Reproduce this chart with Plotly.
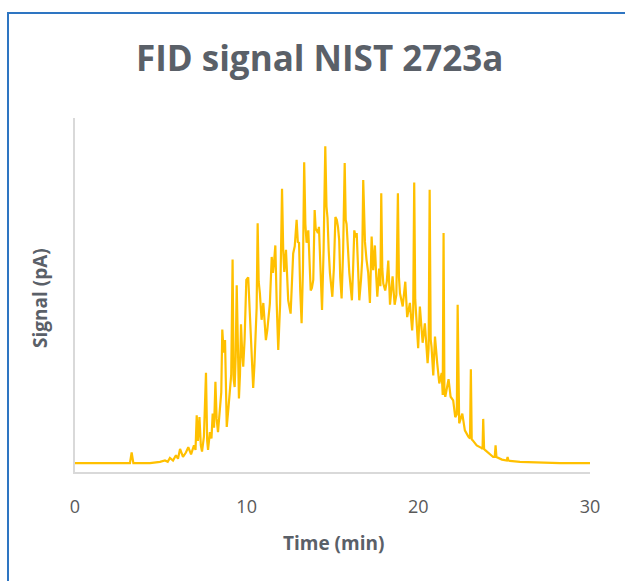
import plotly.graph_objects as go

# Retention time (min)
time_min = [
    0.0, 1.0, 2.0, 3.2, 3.3, 3.4, 4.37, 4.66, 4.95, 5.24, 5.40, 5.53, 5.71, 5.88, 6.0,
    6.12, 6.29, 6.46, 6.60, 6.76, 6.93, 7.02, 7.09, 7.16, 7.25, 7.33, 7.40, 7.51, 7.63,
    7.70, 7.75, 7.86, 7.95, 8.02, 8.10, 8.18, 8.25, 8.33, 8.44, 8.52, 8.58, 8.66, 8.74,
    8.84, 8.95, 9.03, 9.10, 9.18, 9.24, 9.30, 9.36, 9.42, 9.48, 9.55, 9.61, 9.67, 9.74,
    9.80, 9.88, 9.98, 10.09, 10.16, 10.23, 10.30, 10.38, 10.45, 10.52, 10.58, 10.64,
    10.70, 10.77, 10.87, 10.97, 11.05, 11.12, 11.20, 11.26, 11.35, 11.46, 11.53, 11.59,
    11.67, 11.75, 11.84, 11.95, 12.06, 12.13, 12.19, 12.29, 12.36, 12.42, 12.56, 12.64,
    12.71, 12.80, 12.91, 12.98, 13.05, 13.12, 13.20, 13.28, 13.35, 13.42, 13.49, 13.59,
    13.66, 13.73, 13.80, 13.88, 13.96, 14.02, 14.08, 14.15, 14.21, 14.30, 14.39, 14.48,
    14.58, 14.65, 14.71, 14.78, 14.85, 14.99, 15.08, 15.17, 15.25, 15.32, 15.39, 15.45,
    15.53, 15.62, 15.71, 15.77, 15.82, 15.98, 16.05, 16.13, 16.20, 16.27, 16.35, 16.41,
    16.49, 16.56, 16.66, 16.73, 16.79, 16.85, 16.89, 16.98, 17.08, 17.18, 17.28, 17.37,
    17.47, 17.55, 17.61, 17.72, 17.79, 17.84, 17.90, 17.96, 18.07, 18.16, 18.25, 18.35,
    18.50, 18.62, 18.72, 18.81, 18.87, 18.93, 19.09, 19.24, 19.35, 19.51, 19.64, 19.70,
    19.76, 19.82, 19.86, 19.99, 20.09, 20.25, 20.38, 20.54, 20.60, 20.66, 20.72, 20.77,
    20.87, 20.97, 21.10, 21.22, 21.36, 21.42, 21.47, 21.52, 21.57, 21.68, 21.76, 21.88,
    22.03, 22.15, 22.24, 22.29, 22.34, 22.38, 22.56, 22.71, 22.91, 23.01, 23.06, 23.11,
    23.16, 23.40, 23.69, 23.74, 23.78, 23.83, 23.88, 24.07, 24.36, 24.45, 24.50, 24.55,
    24.65, 24.87, 25.15, 25.20, 25.25, 25.33, 25.92, 27.08, 28.25, 30.0,
]

# FID signal (pA, baseline-corrected)
signal_pa = [
    0.0, 0.0, 0.0, 0.0, 1.2, 0.0, 0.0, 0.05, 0.15, 0.3, 0.15, 0.6, 0.3, 0.9, 0.5,
    1.6, 0.7, 1.2, 1.8, 1.0, 2.0, 1.5, 5.4, 2.5, 5.2, 2.0, 1.3, 3.0, 10.2,
    2.5, 1.5, 3.5, 2.8, 5.6, 4.0, 9.2, 5.0, 3.5, 6.0, 8.0, 15.1, 12.5, 13.9,
    4.1, 6.5, 8.5, 10.0, 23.0, 9.5, 8.6, 12.0, 20.1, 12.0, 7.3, 10.0, 15.7, 12.5,
    10.9, 14.0, 20.7, 21.0, 18.0, 13.6, 10.5, 8.5, 11.0, 15.0, 17.5, 27.1,
    20.5, 19.2, 16.2, 18.1, 15.5, 13.9, 15.0, 16.5, 18.0, 23.3, 21.5, 22.6,
    24.6, 18.0, 12.8, 18.0, 31.0, 24.0, 21.6, 24.1, 20.5, 18.4, 16.9, 20.0,
    23.7, 24.5, 27.5, 25.0, 24.9, 19.5, 15.8, 22.0, 34.0, 27.0, 24.9, 26.3,
    22.0, 19.5, 19.8, 20.7, 28.6, 26.5, 26.3, 26.0, 26.7, 21.0, 17.3, 24.0,
    35.8, 29.0, 27.7, 24.0, 21.5, 18.8, 22.0, 27.8, 27.5, 26.7, 25.2, 21.0,
    18.6, 24.0, 33.9, 27.5, 27.0, 21.5, 19.5, 18.4, 22.0, 26.3, 25.5, 26.0,
    22.0, 18.4, 20.7, 23.0, 32.0, 26.7, 25.0, 23.0, 21.5, 18.1, 25.6, 21.8,
    24.6, 21.0, 18.8, 22.0, 20.0, 30.5, 22.0, 20.3, 19.5, 20.5, 22.9, 17.9,
    21.1, 17.9, 19.0, 30.5, 21.0, 19.2, 17.7, 20.5, 16.5, 18.1, 15.0, 17.0,
    31.7, 18.5, 16.9, 13.0, 17.7, 13.6, 15.8, 11.3, 13.0, 30.9, 14.0, 13.1,
    9.9, 14.3, 11.3, 9.0, 10.2, 7.7, 26.0, 8.0, 7.5, 8.5, 9.5, 7.5,
    7.1, 5.2, 5.5, 17.9, 5.0, 4.5, 5.6, 3.7, 3.0, 2.8, 10.6, 2.7,
    2.6, 2.0, 1.7, 1.6, 5.0, 1.6, 1.5, 1.2, 0.7, 0.7, 2.0, 0.7,
    0.6, 0.4, 0.3, 0.7, 0.3, 0.25, 0.15, 0.05, 0.0, 0.0,
]

x_tick_vals = [0, 10, 20, 30]
x_tick_text = ["0", "10", "20", "30"]

chart_title = "FID signal NIST 2723a"
x_title = "Time (min)"
y_title = "Signal (pA)"

TEXT = "#595959"
TITLE = "#5A6068"
FONT = "'Open Sans', 'Noto Sans', sans-serif"

fig = go.Figure()
fig.add_trace(go.Scatter(
    x=time_min, y=signal_pa, mode="lines",
    line=dict(color="#FFC000", width=2.2),
    hoverinfo="skip", showlegend=False,
))

W, H = 625, 581
ml, mr, mt, mb = 75, 35, 118, 109
pw, ph = W - ml - mr, H - mt - mb

def px_x(p):
    return (p - ml) / pw

def px_y(p):
    return (H - mb - p) / ph

fig.update_layout(
    width=W, height=H,
    margin=dict(l=ml, r=mr, t=mt, b=mb, pad=0),
    paper_bgcolor="white", plot_bgcolor="white",
    font=dict(family=FONT, color=TEXT),
    xaxis=dict(
        range=[0, 30], showgrid=False, zeroline=False,
        showline=True, linecolor="#D9D9D9", linewidth=1.5,
        tickmode="array", tickvals=x_tick_vals, ticktext=x_tick_text,
        ticks="outside", ticklen=18, tickcolor="rgba(0,0,0,0)",
        tickfont=dict(size=18, color=TEXT, family=FONT),
    ),
    yaxis=dict(
        range=[-1.0, 39.0], showgrid=False, zeroline=False,
        showline=True, linecolor="#D9D9D9", linewidth=1.5,
        showticklabels=False, ticks="",
    ),
    annotations=[
        dict(text=f"<b>{chart_title}</b>", xref="paper", yref="paper",
             x=px_x(319), y=px_y(57), xanchor="center", yanchor="middle",
             showarrow=False, font=dict(size=35, color=TITLE, family=FONT)),
        dict(text=f"<b>{x_title}</b>", xref="paper", yref="paper",
             x=px_x(333), y=px_y(543), xanchor="center", yanchor="middle",
             showarrow=False, font=dict(size=19, color=TITLE, family=FONT)),
        dict(text=f"<b>{y_title}</b>", xref="paper", yref="paper",
             x=px_x(40), y=px_y(298), xanchor="center", yanchor="middle",
             textangle=-90,
             showarrow=False, font=dict(size=19, color=TITLE, family=FONT)),
    ],
    shapes=[
        dict(type="rect", xref="paper", yref="paper",
             x0=px_x(8), x1=px_x(640), y0=px_y(600), y1=px_y(13),
             line=dict(color="#2E75C2", width=2), fillcolor="rgba(0,0,0,0)",
             layer="above"),
    ],
)

fig.write_html(
    "out.html",
    config={"displayModeBar": False},
    post_script="document.body.style.margin='0px';document.body.style.overflow='hidden';",
)
